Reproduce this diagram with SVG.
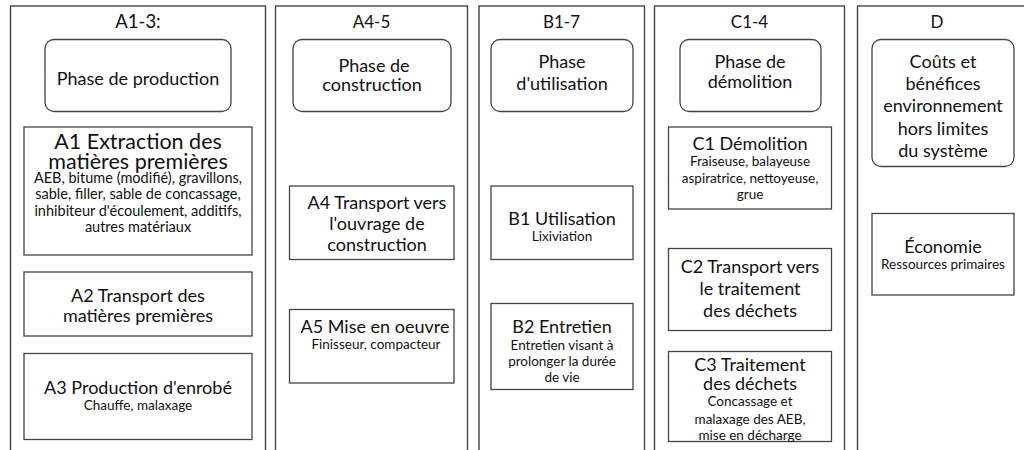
<svg xmlns="http://www.w3.org/2000/svg" width="1024" height="450" viewBox="0 0 1024 450">
<style>
.col{fill:#fff;stroke:#444;stroke-width:1.4}
.box{fill:#fff;stroke:#444;stroke-width:1.3}
text{font-family:Lato,"Open Sans","Liberation Sans",sans-serif;fill:#111;text-anchor:middle}
.t{font-size:17px}
.b{font-size:18px}
.h{font-size:21.5px}
.s{font-size:13.5px}
.m{font-size:14.5px}
</style>
<rect width="1024" height="450" fill="#fff"/>
<g id="col-a13">
<rect class="col" x="10.5" y="6" width="255" height="460"/>
<text class="t" x="138" y="28" style="font-size:18.5px">A1-3:</text>
<rect class="box" x="45" y="39.5" width="186" height="72" rx="9"/>
<text class="b" x="138" y="84.5">Phase de production</text>
</g>
<g id="a1">
<rect class="box" x="24" y="127" width="228" height="128"/>
<text class="h" x="138" y="149">A1 Extraction des</text>
<text class="h" x="138" y="169">matières premières</text>
<text class="m" x="138" y="182.5">AEB, bitume (modifié), gravillons,</text>
<text class="m" x="138" y="199">sable, filler, sable de concassage,</text>
<text class="m" x="138" y="215.5">inhibiteur d'écoulement, additifs,</text>
<text class="m" x="138" y="231.5">autres matériaux</text>
</g>
<g id="a2">
<rect class="box" x="24" y="272" width="228" height="64"/>
<text class="b" x="138" y="302">A2 Transport des</text>
<text class="b" x="138" y="322">matières premières</text>
</g>
<g id="a3">
<rect class="box" x="24" y="353.5" width="228" height="86"/>
<text class="b" x="138" y="393.5">A3 Production d'enrobé</text>
<text class="s" x="138" y="409.7">Chauffe, malaxage</text>
</g>
<g id="col-a45">
<rect class="col" x="275.5" y="6" width="192" height="460"/>
<text class="t" x="371.5" y="28">A4-5</text>
<rect class="box" x="293" y="39.5" width="158" height="72" rx="9"/>
<text class="b" x="374" y="71.5">Phase de</text>
<text class="b" x="372" y="90.5">construction</text>
</g>
<g id="a4">
<rect class="box" x="289.5" y="186" width="164.5" height="73.5"/>
<text class="b" x="377" y="209">A4 Transport vers</text>
<text class="b" x="377" y="230">l'ouvrage de</text>
<text class="b" x="377" y="251">construction</text>
</g>
<g id="a5">
<rect class="box" x="289.5" y="309.5" width="164.5" height="73.5"/>
<text class="b" x="375" y="333">A5 Mise en oeuvre</text>
<text class="s" x="376" y="348.5">Finisseur, compacteur</text>
</g>
<g id="col-b17">
<rect class="col" x="479" y="6" width="165.5" height="460"/>
<text class="t" x="561.5" y="28">B1-7</text>
<rect class="box" x="491" y="39.5" width="142" height="72" rx="9"/>
<text class="b" x="562" y="68">Phase</text>
<text class="b" x="562" y="90">d'utilisation</text>
</g>
<g id="b1">
<rect class="box" x="491" y="186" width="142" height="73.5"/>
<text class="b" x="562" y="224.5">B1 Utilisation</text>
<text class="s" x="562" y="241.4">Lixiviation</text>
</g>
<g id="b2">
<rect class="box" x="491" y="303.5" width="142" height="86"/>
<text class="b" x="562" y="333">B2 Entretien</text>
<text class="s" x="562" y="349.5">Entretien visant à</text>
<text class="s" x="562" y="366">prolonger la durée</text>
<text class="s" x="562" y="382.2">de vie</text>
</g>
<g id="col-c14">
<rect class="col" x="654.5" y="6" width="190" height="460"/>
<text class="t" x="749.5" y="28">C1-4</text>
<rect class="box" x="680" y="39.5" width="141" height="72" rx="9"/>
<text class="b" x="750" y="68">Phase de</text>
<text class="b" x="750" y="88">démolition</text>
</g>
<g id="c1">
<rect class="box" x="668.5" y="127" width="163" height="82"/>
<text class="b" x="750" y="150">C1 Démolition</text>
<text class="s" x="750" y="166.4">Fraiseuse, balayeuse</text>
<text class="s" x="750" y="183">aspiratrice, nettoyeuse,</text>
<text class="s" x="750" y="198.7">grue</text>
</g>
<g id="c2">
<rect class="box" x="668.5" y="248.5" width="163" height="82"/>
<text class="b" x="750" y="273">C2 Transport vers</text>
<text class="b" x="750" y="294.8">le traitement</text>
<text class="b" x="750" y="316.5">des déchets</text>
</g>
<g id="c3">
<rect class="box" x="668.5" y="351.5" width="163" height="90"/>
<text class="b" x="750" y="371">C3 Traitement</text>
<text class="b" x="750" y="390">des déchets</text>
<text class="s" x="750" y="406.4">Concassage et</text>
<text class="s" x="750" y="424">malaxage des AEB,</text>
<text class="s" x="750" y="439.7">mise en décharge</text>
</g>
<g id="col-d">
<rect class="col" x="857.5" y="6" width="180" height="460"/>
<text class="t" x="937" y="28">D</text>
<rect class="box" x="872" y="39.5" width="142" height="127" rx="9"/>
<text class="b" x="943" y="68">Coûts et</text>
<text class="b" x="943" y="90">bénéfices</text>
<text class="b" x="943" y="112">environnement</text>
<text class="b" x="943" y="134.5">hors limites</text>
<text class="b" x="943" y="156.5">du système</text>
</g>
<g id="d1">
<rect class="box" x="872" y="213.5" width="142" height="81.5"/>
<text class="b" x="943" y="252.5">Économie</text>
<text class="s" x="943" y="268.7">Ressources primaires</text>
</g>
<g id="connectors"></g>
</svg>
